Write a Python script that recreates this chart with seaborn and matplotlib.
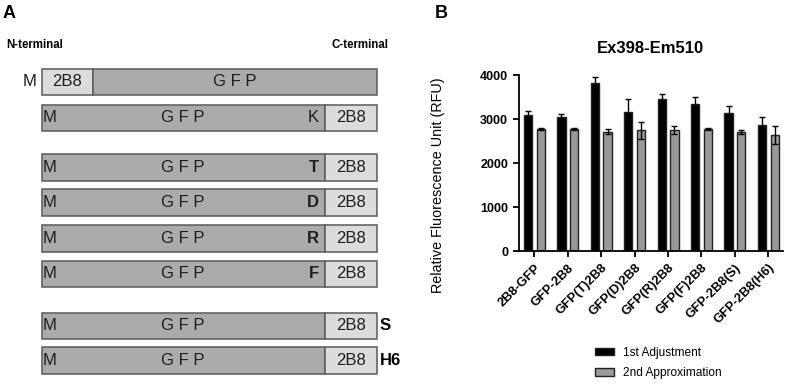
import seaborn as sns
import matplotlib.pyplot as plt
import matplotlib.patches as mpatches
import pandas as pd

# panel B values
constructs = ["2B8-GFP", "GFP-2B8", "GFP(T)2B8", "GFP(D)2B8",
              "GFP(R)2B8", "GFP(F)2B8", "GFP-2B8(S)", "GFP-2B8(H6)"]
series = ["1st Adjustment", "2nd Approximation"]
first_adj = [3100, 3060, 3830, 3160, 3470, 3340, 3150, 2870]
first_err = [100, 50, 140, 300, 100, 160, 150, 190]
second_app = [2780, 2780, 2720, 2750, 2750, 2780, 2705, 2650]
second_err = [30, 30, 50, 190, 90, 25, 50, 200]

# panel A constructs (C-terminal 2B8 rows)
linker = ["K", "T", "D", "R", "F", "", ""]
suffix = ["", "", "", "", "", "S", "H6"]
bold_linker = [False, True, True, True, True, False, False]

plt.rcParams['font.family'] = ['Liberation Sans', 'DejaVu Sans']

fig = plt.figure(figsize=(7.87, 3.87), dpi=100)

# ---------------- panel A : construct diagram ----------------
axa = fig.add_axes([0, 0, 400 / 787, 1])
axa.set_xlim(0, 400)
axa.set_ylim(387, 0)
axa.axis("off")

gfp_col = "#ababab"
tag_col = "#dcdcdc"
edge_col = "#5a5a5a"
txt_col = "#1e1e1e"
h = 26.5
x0, x1, split = 41.5, 377, 324.5
fs = 12

def box(ax, xa, xb, yc, color):
    ax.add_patch(mpatches.Rectangle((xa, yc - h / 2), xb - xa, h,
                                    facecolor=color, edgecolor=edge_col, lw=1.1))

# N-terminal 2B8 row
y1 = 82
box(axa, x0, 93, y1, tag_col)
box(axa, 93, x1, y1, gfp_col)
axa.text(37, y1, "M", ha="right", va="center", fontsize=fs, color=txt_col)
axa.text(67, y1, "2B8", ha="center", va="center", fontsize=fs, color=txt_col)
axa.text(235, y1, "G F P", ha="center", va="center", fontsize=fs, color=txt_col)

rows_y = [118, 167.7, 202.5, 238.7, 274, 326, 360.7]
for yc, lk, sf, bl in zip(rows_y, linker, suffix, bold_linker):
    box(axa, x0, split, yc, gfp_col)
    box(axa, split, x1, yc, tag_col)
    axa.text(43, yc, "M", ha="left", va="center", fontsize=fs, color=txt_col)
    axa.text(183, yc, "G F P", ha="center", va="center", fontsize=fs, color=txt_col)
    axa.text(350.7, yc, "2B8", ha="center", va="center", fontsize=fs, color=txt_col)
    if lk:
        axa.text(318.5, yc, lk, ha="right", va="center", fontsize=fs, color=txt_col,
                 fontweight="bold" if bl else "normal")
    if sf:
        axa.text(380, yc, sf, ha="left", va="center", fontsize=fs,
                 fontweight="bold", color="black")

axa.text(6.5, 45, "N-terminal", ha="left", va="center", fontsize=8.3, fontweight="bold")
axa.text(388.5, 45, "C-terminal", ha="right", va="center", fontsize=8.3, fontweight="bold")

fig.text(3 / 787, 1 - 13.3 / 387, "A", ha="left", va="center", fontsize=13, fontweight="bold")
fig.text(435 / 787, 1 - 13 / 387, "B", ha="left", va="center", fontsize=13, fontweight="bold")

# ---------------- panel B : bar chart ----------------
df = pd.DataFrame({
    "construct": constructs * 2,
    "series": [series[0]] * len(constructs) + [series[1]] * len(constructs),
    "rfu": first_adj + second_app,
})
errs = [first_err, second_err]
palette = {series[0]: "black", series[1]: "#999999"}

axb = fig.add_axes([0.659, 0.3506, 0.336, 0.4548])
sns.barplot(data=df, x="construct", y="rfu", hue="series", palette=palette,
            width=0.76, gap=0.34, errorbar=None, edgecolor="#222222",
            linewidth=1.0, legend=False, ax=axb)

for cont, err in zip(axb.containers, errs):
    xs = [p.get_x() + p.get_width() / 2 for p in cont]
    ys = [p.get_height() for p in cont]
    axb.errorbar(xs, ys, yerr=err, fmt="none", ecolor="black",
                 elinewidth=1.0, capsize=2, capthick=1.0)

axb.set_xlim(-0.47, 7.44)
axb.set_ylim(0, 4000)
axb.set_yticks([0, 1000, 2000, 3000, 4000])
axb.spines["top"].set_visible(False)
axb.spines["right"].set_visible(False)
for s in ["left", "bottom"]:
    axb.spines[s].set_linewidth(1.3)
axb.tick_params(width=1.3, length=4, labelsize=9)
for lab in axb.get_yticklabels():
    lab.set_fontweight("bold")
axb.set_xticks(range(len(constructs)))
axb.set_xticklabels(constructs, rotation=45, ha="right", rotation_mode="anchor",
                    fontweight="bold", fontsize=9.3)
axb.set_xlabel("")
axb.set_ylabel("Relative Fluorescence Unit (RFU)", fontsize=10.4)
axb.yaxis.set_label_coords(-0.279, 0.374)
axb.text(0.5, 1.155, "Ex398-Em510", transform=axb.transAxes, ha="center",
         va="center", fontsize=12, fontweight="bold")

handles = [mpatches.Patch(facecolor=palette[s], edgecolor="#222222", lw=1.0, label=s)
           for s in series]
fig.legend(handles=handles, loc="upper left", bbox_to_anchor=(0.748, 0.12),
           frameon=False, fontsize=8.6, handlelength=1.6, handleheight=0.6,
           labelspacing=0.75, borderpad=0, handletextpad=0.8)

fig.savefig("out.png", dpi=100)
